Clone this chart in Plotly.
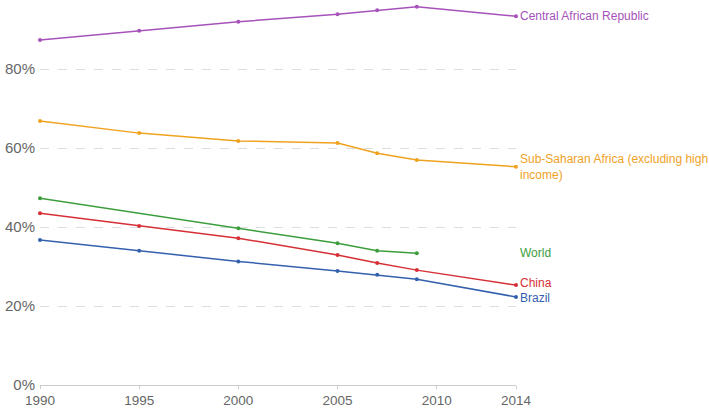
import plotly.graph_objects as go

car_years = [1990, 1995, 2000, 2005, 2007, 2009, 2014]
car_vals = [87.4, 89.7, 92.0, 93.9, 94.9, 95.8, 93.4]

ssa_years = [1990, 1995, 2000, 2005, 2007, 2009, 2014]
ssa_vals = [66.9, 63.8, 61.8, 61.3, 58.7, 57.0, 55.3]

world_years = [1990, 2000, 2005, 2007, 2009]
world_vals = [47.3, 39.7, 35.9, 34.0, 33.4]

china_years = [1990, 1995, 2000, 2005, 2007, 2009, 2014]
china_vals = [43.5, 40.3, 37.2, 32.9, 30.9, 29.1, 25.3]

brazil_years = [1990, 1995, 2000, 2005, 2007, 2009, 2014]
brazil_vals = [36.7, 34.0, 31.3, 28.9, 27.9, 26.8, 22.3]

series = [
    ("Central African Republic", car_years, car_vals, "#a652ba", 0),
    ("Sub-Saharan Africa (excluding high<br>income)", ssa_years, ssa_vals, "#f0a21f", 0),
    ("World", world_years, world_vals, "#3c9d3c", 0),
    ("China", china_years, china_vals, "#d62f36", 2),
    ("Brazil", brazil_years, brazil_vals, "#3461ad", -1),
]

tick_years = [1990, 1995, 2000, 2005, 2010, 2014]
y_ticks = [0, 20, 40, 60, 80]
y_labels = ["0%", "20%", "40%", "60%", "80%"]

FONT = "Liberation Sans, Arial, sans-serif"

fig = go.Figure()
annotations = []
for name, xs, ys, color, yshift in series:
    fig.add_trace(go.Scatter(
        x=xs, y=ys, mode="lines+markers", name=name,
        line=dict(color=color, width=1.5),
        marker=dict(color=color, size=4),
        showlegend=False, cliponaxis=False, hoverinfo="skip",
    ))
    annotations.append(dict(
        x=2014, y=ys[-1], xref="x", yref="y", text=name,
        showarrow=False, xanchor="left", yanchor="middle",
        xshift=2, yshift=yshift, align="left",
        font=dict(color=color, size=12, family=FONT),
    ))

fig.update_layout(
    width=709, height=408,
    margin=dict(l=40, r=193, t=6, b=23, autoexpand=False),
    plot_bgcolor="white", paper_bgcolor="white",
    annotations=annotations,
    font=dict(family=FONT, color="#666666"),
    xaxis=dict(
        range=[1990, 2014], tickmode="array", tickvals=tick_years,
        ticktext=[str(t) for t in tick_years], automargin=False,
        showgrid=False, showline=True, linecolor="#cccccc", linewidth=1,
        ticks="outside", ticklen=3, tickcolor="#cccccc",
        tickfont=dict(size=13.5, color="#666666"), zeroline=False,
    ),
    yaxis=dict(
        range=[0, 96], tickmode="array", tickvals=y_ticks, ticktext=y_labels,
        showgrid=True, gridcolor="#dddddd", griddash="dash", gridwidth=1,
        zeroline=False, showline=False, ticks="", ticklabelstandoff=4,
        automargin=False,
        tickfont=dict(size=15, color="#666666"),
    ),
)
fig.write_html(
    "out.html",
    config={"displayModeBar": False, "staticPlot": True},
    post_script="document.body.style.margin='0';document.body.style.overflow='hidden';",
)
